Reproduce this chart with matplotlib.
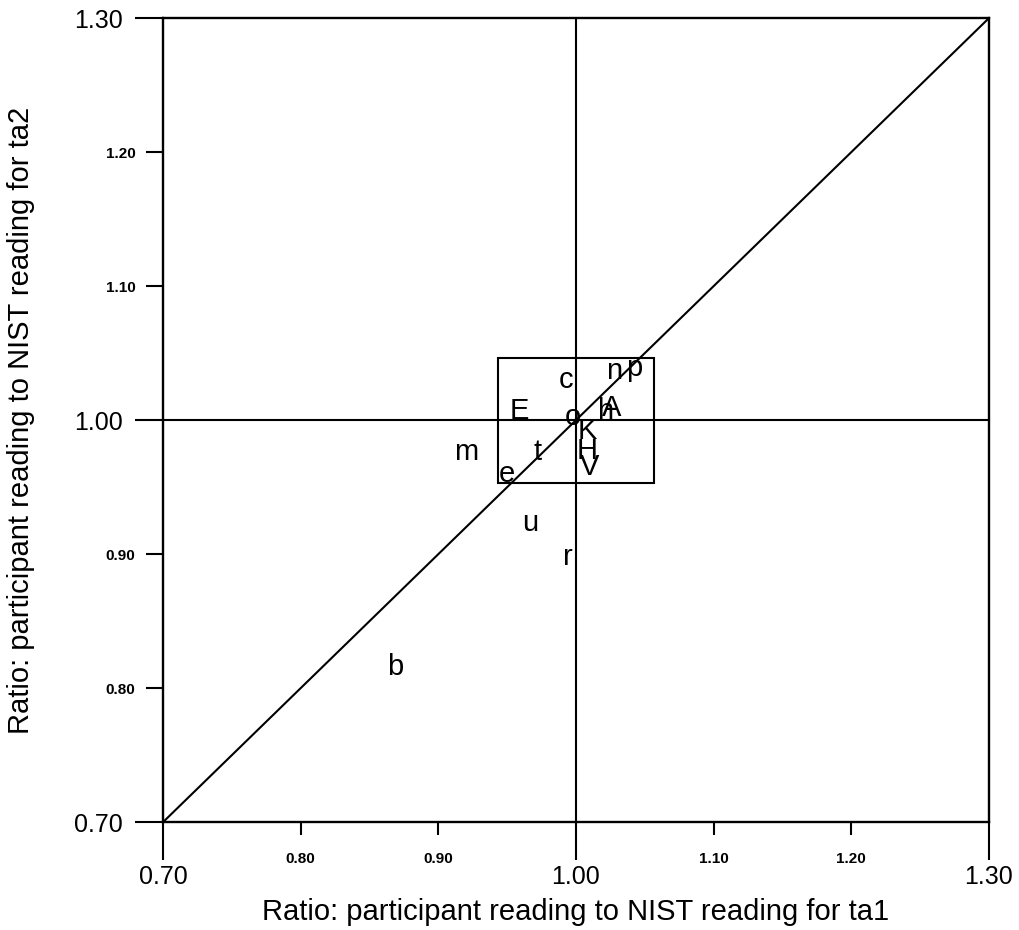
import matplotlib.pyplot as plt
import matplotlib.patches as patches

plt.rcParams['font.family'] = ['Liberation Sans', 'DejaVu Sans']

# participant codes and their ratios
labels = ['b', 'm', 'e', 't', 'E', 'c', 'o', 'u', 'r', 'n', 'p', 'h', 'A', 'K', 'H', 'V']
ta1 = [0.869, 0.920, 0.950, 0.972, 0.959, 0.993, 0.998, 0.967, 0.994,
       1.028, 1.042, 1.022, 1.026, 1.008, 1.008, 1.010]
ta2 = [0.816, 0.976, 0.960, 0.976, 1.007, 1.030, 1.002, 0.923, 0.898,
       1.037, 1.039, 1.007, 1.009, 0.992, 0.977, 0.965]

major = [0.70, 1.00, 1.30]
minor = [0.80, 0.90, 1.10, 1.20]

# zoom box around the cluster near 1.0
box_x = [0.943, 1.057]
box_y = [0.953, 1.046]

fig = plt.figure(figsize=(10.19, 9.30), dpi=100)
ax = fig.add_axes([0.160, 0.116, 0.8105, 0.8645])

ax.plot([0.7, 1.3], [0.7, 1.3], color='black', lw=1.5)
ax.axvline(1.0, color='black', lw=1.5)
ax.axhline(1.0, color='black', lw=1.5)
ax.add_patch(patches.Rectangle((box_x[0], box_y[0]), box_x[1] - box_x[0],
                               box_y[1] - box_y[0], fill=False,
                               edgecolor='black', lw=1.5))

for lab, x, y in zip(labels, ta1, ta2):
    ax.text(x, y, lab, fontsize=21, ha='center', va='center')

ax.set_xlim(0.7, 1.3)
ax.set_ylim(0.7, 1.3)

ax.set_xticks(major)
ax.set_xticklabels(['%.2f' % v for v in major], fontsize=18)
ax.set_xticks(minor, minor=True)
ax.set_xticklabels(['%.2f' % v for v in minor], minor=True, fontsize=11,
                   fontweight='bold')
ax.set_yticks(major)
ax.set_yticklabels(['%.2f' % v for v in major], fontsize=18)
ax.set_yticks(minor, minor=True)
ax.set_yticklabels(['%.2f' % v for v in minor], minor=True, fontsize=11,
                   fontweight='bold')

ax.tick_params(axis='x', which='major', direction='out', length=27,
               width=1.5, pad=4)
ax.tick_params(axis='x', which='minor', direction='out', length=9.5,
               width=1.5, pad=12)
ax.tick_params(axis='y', which='major', direction='out', length=20,
               width=1.5, pad=9)
ax.tick_params(axis='y', which='minor', direction='out', length=12,
               width=1.5, pad=8)
for s in ax.spines.values():
    s.set_linewidth(1.7)

ax.set_xlabel('Ratio: participant reading to NIST reading for ta1', fontsize=21,
              labelpad=6)
ax.set_ylabel('Ratio: participant reading to NIST reading for ta2', fontsize=21,
              labelpad=28)

fig.savefig('out.png', dpi=100)
